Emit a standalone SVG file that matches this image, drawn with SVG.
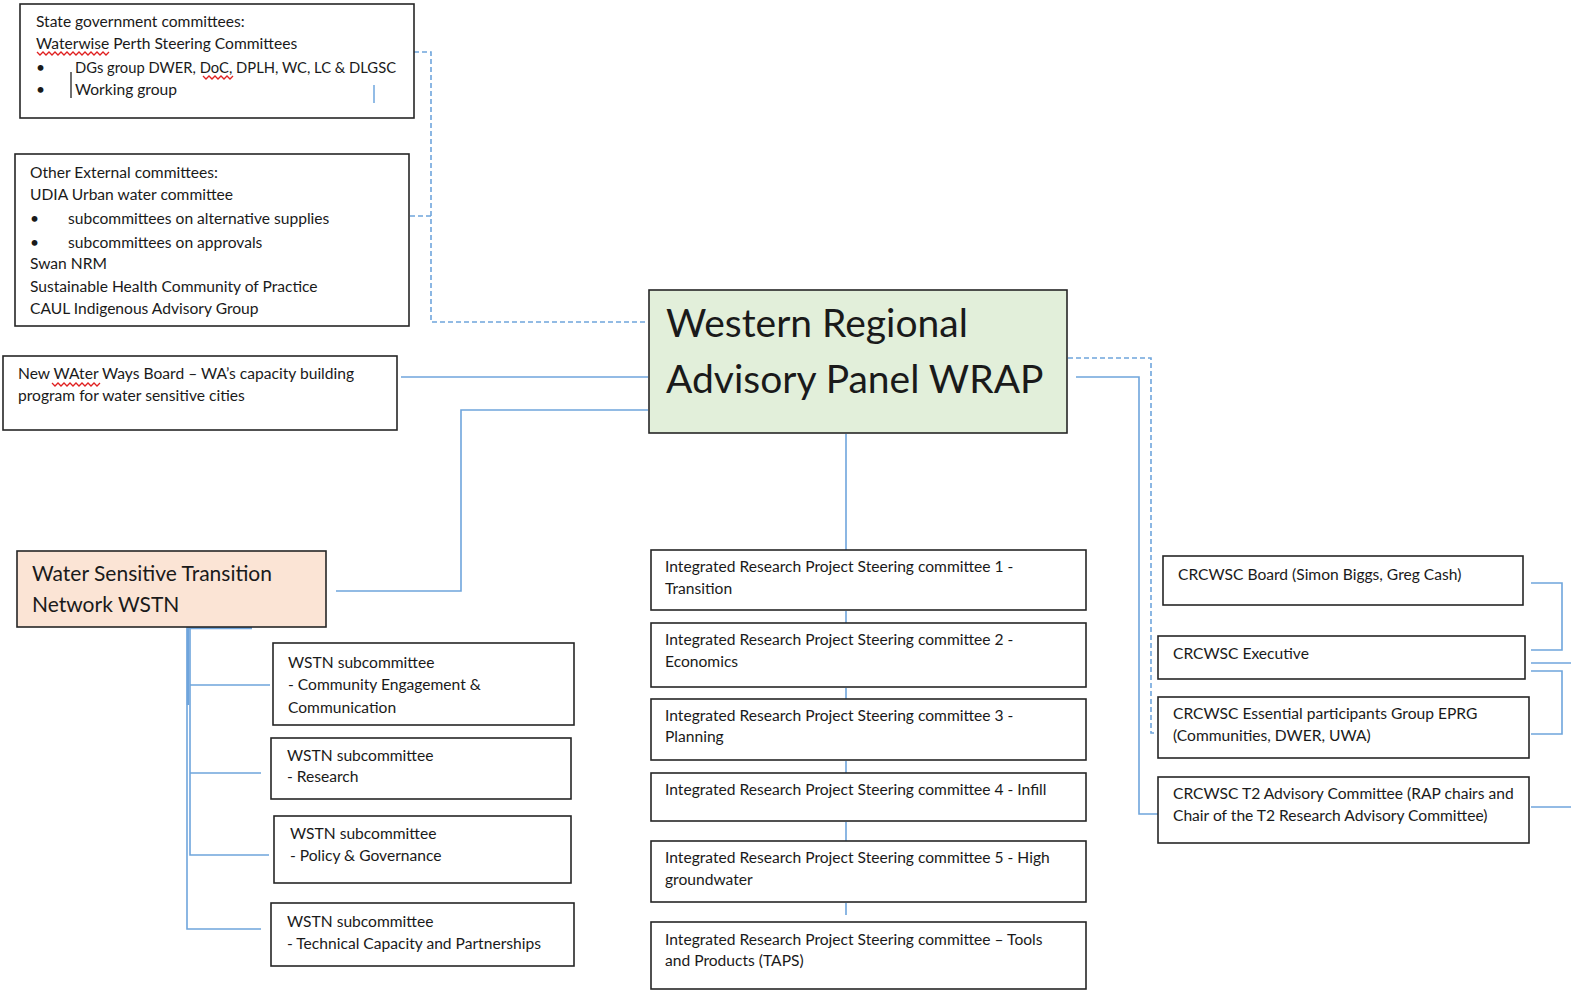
<svg xmlns="http://www.w3.org/2000/svg" width="1571" height="992" viewBox="0 0 1571 992">
<style>
.box{fill:#fff;stroke:#262626;stroke-width:1.6}
.wrap{fill:#e2efda;stroke:#262626;stroke-width:1.6}
.wstn{fill:#fbe4d5;stroke:#262626;stroke-width:1.6}
text{font-family:Lato,"Liberation Sans",sans-serif;fill:#1a1a1a}
.t{font-size:15.6px}
.big{font-size:39px}
.mid{font-size:21px}
.c{fill:none;stroke:#6fa5dc;stroke-width:1.6}
.d{fill:none;stroke:#6fa5dc;stroke-width:1.6;stroke-dasharray:5 3}
.sq{fill:none;stroke:#e02020;stroke-width:1.3}
</style>
<rect width="1571" height="992" fill="#fff"/>
<g id="connectors">
<path class="d" d="M414,52 H431 V322 H648"/>
<path class="d" d="M410,216 H431"/>
<path class="c" d="M401,377 H648"/>
<path class="c" d="M336,591 H461 V410 H648"/>
<path class="d" d="M1068,358 H1151 V733 H1157"/>
<path class="c" d="M1076,377 H1139 V814 H1158"/>
<path class="c" d="M846,434 V550 M846,611 V623 M846,688 V699 M846,761 V773 M846,822 V841 M846,903 V915"/>
<path class="c" d="M1531,583 H1562 V650 H1531"/>
<path class="c" d="M1531,663 H1571"/>
<path class="c" d="M1531,671 H1562 V734 H1531"/>
<path class="c" d="M1531,807 H1571"/>
<path class="c" d="M187,627 V929 H261 M190,627 V855 H269 M190,685 H270 M190,773 H261" />
<path class="c" style="stroke-width:2.5" d="M187,628 H252 M188,628 V705"/>
</g>
<g id="state-gov">
<rect class="box" x="20" y="4" width="394" height="114"/>
<text class="t" x="36" y="27">State government committees:</text>
<text class="t" x="36" y="49">Waterwise Perth Steering Committees</text>
<text class="t" x="36" y="73">•</text>
<text class="t" x="75" y="73" textLength="321" lengthAdjust="spacingAndGlyphs">DGs group DWER, DoC, DPLH, WC, LC &amp; DLGSC</text>
<text class="t" x="36" y="95">•</text>
<text class="t" x="75" y="95">Working group</text>
<path d="M71,72 V98" stroke="#111" stroke-width="1.2"/>
<path d="M374,85 V103" stroke="#4a8fd6" stroke-width="1.2"/>
<path class="sq" d="M37,52 l3,3 l3,-3 l3,3 l3,-3 l3,3 l3,-3 l3,3 l3,-3 l3,3 l3,-3 l3,3 l3,-3 l3,3 l3,-3 l3,3 l3,-3 l3,3 l3,-3 l3,3 l3,-3 l3,3 l3,-3 l3,3 l3,-3"/>
<path class="sq" d="M203,76 l3,3 l3,-3 l3,3 l3,-3 l3,3 l3,-3 l3,3 l3,-3 l3,3 l3,-3"/>
</g>
<g id="other-external">
<rect class="box" x="15" y="154" width="394" height="172"/>
<text class="t" x="30" y="178">Other External committees:</text>
<text class="t" x="30" y="200">UDIA Urban water committee</text>
<text class="t" x="30" y="224">•</text>
<text class="t" x="68" y="224">subcommittees on alternative supplies</text>
<text class="t" x="30" y="248">•</text>
<text class="t" x="68" y="248">subcommittees on approvals</text>
<text class="t" x="30" y="269">Swan NRM</text>
<text class="t" x="30" y="292">Sustainable Health Community of Practice</text>
<text class="t" x="30" y="314">CAUL Indigenous Advisory Group</text>
</g>
<g id="new-waterways">
<rect class="box" x="3" y="356" width="394" height="74"/>
<text class="t" x="18" y="379">New WAter Ways Board – WA’s capacity building</text>
<text class="t" x="18" y="401">program for water sensitive cities</text>
<path class="sq" d="M52,383 l3,3 l3,-3 l3,3 l3,-3 l3,3 l3,-3 l3,3 l3,-3 l3,3 l3,-3 l3,3 l3,-3 l3,3 l3,-3 l3,3 l3,-3"/>
</g>
<g id="wrap">
<rect class="wrap" x="649" y="290" width="418" height="143"/>
<text class="big" x="666" y="337">Western Regional</text>
<text class="big" x="666" y="393">Advisory Panel WRAP</text>
</g>
<g id="wstn">
<rect class="wstn" x="17" y="551" width="309" height="76"/>
<text class="mid" x="32" y="581">Water Sensitive Transition</text>
<text class="mid" x="32" y="612">Network WSTN</text>
</g>
<g id="wstn-ce">
<rect class="box" x="273" y="643" width="301" height="82"/>
<text class="t" x="288" y="668">WSTN subcommittee</text>
<text class="t" x="288" y="690">- Community Engagement &amp;</text>
<text class="t" x="288" y="713">Communication</text>
</g>
<g id="wstn-research">
<rect class="box" x="271" y="738" width="300" height="61"/>
<text class="t" x="287" y="761">WSTN subcommittee</text>
<text class="t" x="287" y="782">- Research</text>
</g>
<g id="wstn-policy">
<rect class="box" x="274" y="816" width="297" height="67"/>
<text class="t" x="290" y="839">WSTN subcommittee</text>
<text class="t" x="290" y="861">- Policy &amp; Governance</text>
</g>
<g id="wstn-tech">
<rect class="box" x="271" y="903" width="303" height="63"/>
<text class="t" x="287" y="927">WSTN subcommittee</text>
<text class="t" x="287" y="949">- Technical Capacity and Partnerships</text>
</g>
<g id="irp1">
<rect class="box" x="651" y="550" width="435" height="60"/>
<text class="t" x="665" y="572">Integrated Research Project Steering committee 1 -</text>
<text class="t" x="665" y="594">Transition</text>
</g>
<g id="irp2">
<rect class="box" x="651" y="623" width="435" height="64"/>
<text class="t" x="665" y="645">Integrated Research Project Steering committee 2 -</text>
<text class="t" x="665" y="667">Economics</text>
</g>
<g id="irp3">
<rect class="box" x="651" y="699" width="435" height="61"/>
<text class="t" x="665" y="721">Integrated Research Project Steering committee 3 -</text>
<text class="t" x="665" y="742">Planning</text>
</g>
<g id="irp4">
<rect class="box" x="651" y="773" width="435" height="48"/>
<text class="t" x="665" y="795">Integrated Research Project Steering committee 4 - Infill</text>
</g>
<g id="irp5">
<rect class="box" x="651" y="841" width="435" height="61"/>
<text class="t" x="665" y="863">Integrated Research Project Steering committee 5 - High</text>
<text class="t" x="665" y="885">groundwater</text>
</g>
<g id="taps">
<rect class="box" x="651" y="922" width="435" height="67"/>
<text class="t" x="665" y="945">Integrated Research Project Steering committee – Tools</text>
<text class="t" x="665" y="966">and Products (TAPS)</text>
</g>
<g id="crc-board">
<rect class="box" x="1163" y="556" width="360" height="49"/>
<text class="t" x="1178" y="580">CRCWSC Board (Simon Biggs, Greg Cash)</text>
</g>
<g id="crc-exec">
<rect class="box" x="1158" y="636" width="367" height="43"/>
<text class="t" x="1173" y="659">CRCWSC Executive</text>
</g>
<g id="crc-eprg">
<rect class="box" x="1158" y="697" width="371" height="61"/>
<text class="t" x="1173" y="719">CRCWSC Essential participants Group EPRG</text>
<text class="t" x="1173" y="741">(Communities, DWER, UWA)</text>
</g>
<g id="crc-t2">
<rect class="box" x="1158" y="777" width="371" height="66"/>
<text class="t" x="1173" y="799">CRCWSC T2 Advisory Committee (RAP chairs and</text>
<text class="t" x="1173" y="821">Chair of the T2 Research Advisory Committee)</text>
</g>
</svg>
